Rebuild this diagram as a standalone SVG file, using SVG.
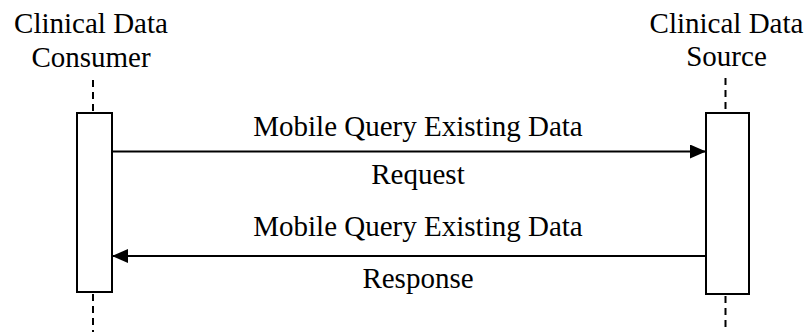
<svg xmlns="http://www.w3.org/2000/svg" width="806" height="332" viewBox="0 0 806 332">
<style>
text{font-family:"Liberation Serif","Times New Roman",serif;font-size:29px;fill:#000;text-anchor:middle}
.life{stroke:#000;stroke-width:2;stroke-dasharray:7,5;fill:none}
.act{fill:#fff;stroke:#000;stroke-width:2}
.msg{stroke:#000;stroke-width:2;fill:none}
</style>
<defs>
<marker id="ah" viewBox="0 0 16 14" refX="16" refY="7" markerWidth="16" markerHeight="14" markerUnits="userSpaceOnUse" orient="auto">
<path d="M0,0 L16,7 L0,14 Z" fill="#000"/>
</marker>
</defs>
<g id="consumer">
<text x="91" y="33">Clinical Data</text>
<text x="91" y="67">Consumer</text>
<line class="life" x1="93" y1="80" x2="93" y2="113"/>
<line class="life" x1="93" y1="294" x2="93" y2="332"/>
<rect class="act" x="77" y="113" width="35" height="179"/>
</g>
<g id="source">
<text x="726.5" y="33">Clinical Data</text>
<text x="726.5" y="66">Source</text>
<line class="life" x1="725.5" y1="78" x2="725.5" y2="113"/>
<line class="life" x1="725.5" y1="296" x2="725.5" y2="332"/>
<rect class="act" x="706" y="113" width="43" height="181"/>
</g>
<g id="connectors">
<line class="msg" x1="112" y1="151.5" x2="706" y2="151.5" marker-end="url(#ah)"/>
<text x="418" y="136">Mobile Query Existing Data</text>
<text x="418" y="184">Request</text>
<line class="msg" x1="706" y1="256" x2="112" y2="256" marker-end="url(#ah)"/>
<text x="418" y="236">Mobile Query Existing Data</text>
<text x="418" y="288">Response</text>
</g>
</svg>
